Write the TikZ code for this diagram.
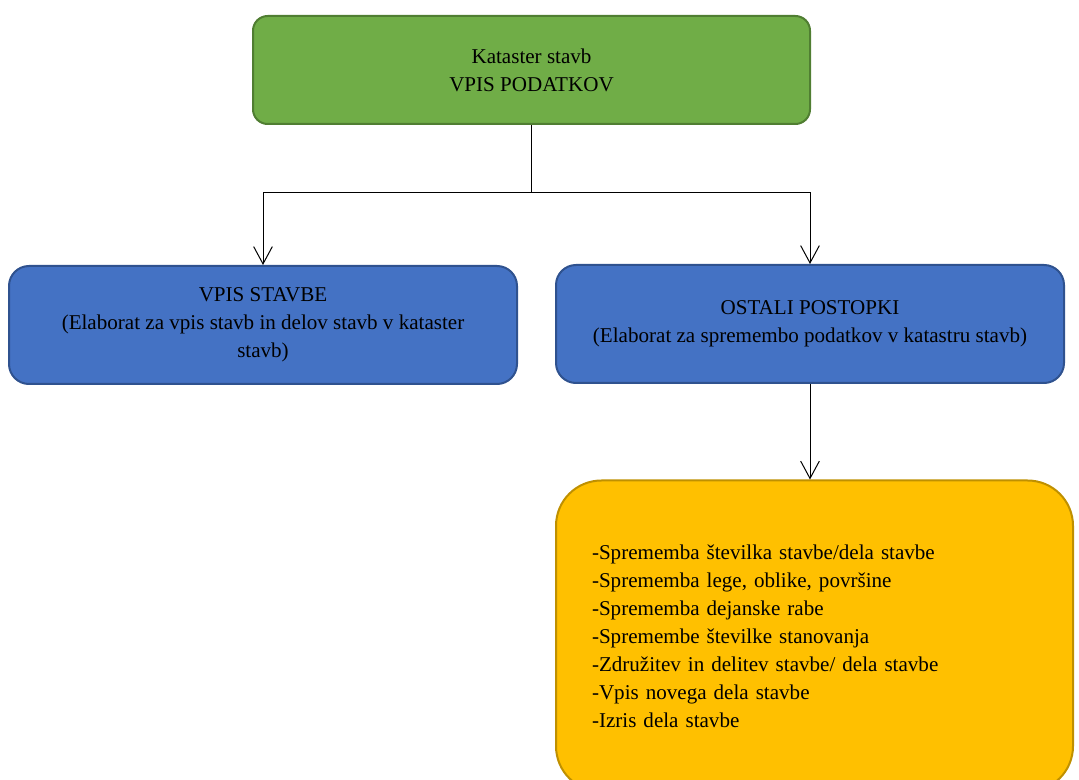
\documentclass[tikz,border=0pt]{standalone}
\usepackage{fontspec}
\setmainfont{Liberation Serif}
\usetikzlibrary{arrows.meta}
\definecolor{greenfill}{HTML}{70AD47}
\definecolor{greenline}{HTML}{507E32}
\definecolor{bluefill}{HTML}{4472C4}
\definecolor{blueline}{HTML}{2F528F}
\definecolor{goldfill}{HTML}{FFC000}
\definecolor{goldline}{HTML}{BF9000}
\tikzset{
  card/.style={draw, line width=1.5pt, align=center, inner sep=0pt,
    font=\fontsize{15.8pt}{21pt}\selectfont},
  titlecard/.style={card, fill=greenfill, draw=greenline, rounded corners=11pt,
    minimum width=417.75pt, minimum height=81pt},
  proccard/.style={card, fill=bluefill, draw=blueline, rounded corners=15pt,
    minimum width=381pt, minimum height=88.5pt},
  listcard/.style={card, fill=goldfill, draw=goldline, rounded corners=34pt,
    minimum width=387.75pt, minimum height=233.25pt, align=left,
    text width=333.75pt, inner xsep=27pt},
  link/.style={line width=0.75pt, black},
  arrowlink/.style={link, -{Straight Barb[length=13pt,width=14pt,line width=0.75pt]}}
}
\begin{document}
\begin{tikzpicture}[x=0.75pt,y=-0.75pt]
\useasboundingbox (0,0) rectangle (1079,780);
\begin{scope}
\clip (0,0) rectangle (1079,780);
\node[titlecard] (top) at (531.5,70) {Kataster stavb\\VPIS PODATKOV};
\node[proccard] (vpis) at (263,325) {VPIS STAVBE\\(Elaborat za vpis stavb in delov stavb v kataster\\stavb)};
\node[proccard] (ostali) at (810,324) {OSTALI POSTOPKI\\(Elaborat za spremembo podatkov v katastru stavb)};
\node[listcard] (seznam) at (814.5,636) {-Sprememba številka stavbe/dela stavbe\\
-Sprememba lege, oblike, površine\\
-Sprememba dejanske rabe\\
-Spremembe številke stanovanja\\
-Združitev in delitev stavbe/ dela stavbe\\
-Vpis novega dela stavbe\\
-Izris dela stavbe};
\coordinate (split) at (531.5,193);
\draw[link] (top.south) -- (split);
\draw[arrowlink] (split) -| (vpis.north);
\draw[arrowlink] (split) -| (ostali.north);
\draw[arrowlink] (ostali.south) -- (ostali.south |- seznam.north);
\end{scope}
\end{tikzpicture}
\end{document}
